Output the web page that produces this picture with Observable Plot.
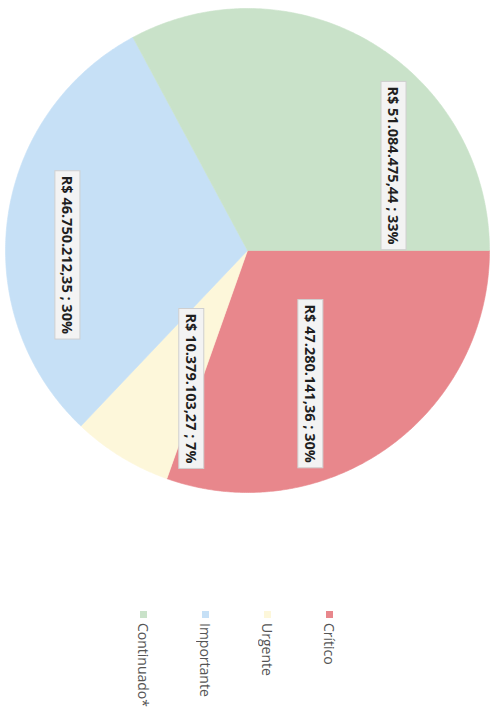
<!DOCTYPE html>
<html>
<head>
<meta charset="utf-8">
<script src="https://cdn.jsdelivr.net/npm/d3@7"></script>
<script src="https://cdn.jsdelivr.net/npm/@observablehq/plot@0.6"></script>
<style>
  html, body { margin: 0; padding: 0; background: #ffffff; overflow: hidden; }
  #stage {
    position: absolute; left: 0; top: 0; width: 714px; height: 499px;
    transform-origin: 0 0; transform: translate(499px, 0) rotate(90deg);
  }
  #pie { position: absolute; left: 0; top: 0; }
  #legend { position: absolute; left: 611px; top: 138px; }
  #legend, #legend * { font-family: "Open Sans", sans-serif !important; font-size: 14px !important; color: #555555 !important; }
  #legend [class$="-swatch"] { height: 62px !important; padding-bottom: 0 !important; display: flex !important; align-items: center !important; margin: 0 !important; }
  #legend [class$="-swatch"] svg { margin-right: 5px !important; }
  #legend > div { margin: 0 !important; }
</style>
</head>
<body>
<div id="stage"><div id="pie"></div><div id="legend"></div></div>
<script>
// ---- data ----
const categories = ["Crítico", "Urgente", "Importante", "Continuado*"];
const amounts = [47280141.36, 10379103.27, 46750212.35, 51084475.44];
const colors = ["#E8878C", "#FDF7DA", "#C6E0F6", "#C9E2C9"];
// label placement (layout): radius as fraction of pie radius, angular shift from slice middle (deg)
const labelRadius = [0.607, 0.617, 0.748, 0.695];
const labelShift = [10.3, -9, -9, 28.8];

// ---- derived ----
const ptBR = d3.formatLocale({decimal: ",", thousands: ".", grouping: [3], currency: ["R$ ", ""]});
const money = ptBR.format("$,.2f");
const total = d3.sum(amounts);
const arcs = d3.pie().sort(null)(amounts);

const slicePts = [];
arcs.forEach((a, i) => {
  const cat = categories[i];
  slicePts.push({cat, x: 0, y: 0});
  const n = Math.max(2, Math.ceil((a.endAngle - a.startAngle) / (Math.PI / 360)));
  for (let k = 0; k <= n; k++) {
    const t = a.startAngle + (a.endAngle - a.startAngle) * k / n;
    slicePts.push({cat, x: Math.sin(t), y: Math.cos(t)});
  }
  slicePts.push({cat, x: 0, y: 0});
});

const labelData = arcs.map((a, i) => {
  const mid = (a.startAngle + a.endAngle) / 2 + labelShift[i] * Math.PI / 180;
  return {
    cat: categories[i],
    x: labelRadius[i] * Math.sin(mid),
    y: labelRadius[i] * Math.cos(mid),
    text: `${money(amounts[i])} ; ${Math.round(100 * amounts[i] / total)}%`
  };
});

const chart = Plot.plot({
  width: 500,
  height: 499,
  marginLeft: 8, marginRight: 8, marginTop: 9, marginBottom: 6,
  x: {domain: [-1, 1], axis: null},
  y: {domain: [-1, 1], axis: null},
  color: {domain: categories, range: colors},
  style: {background: "transparent"},
  marks: [
    Plot.line(slicePts, {x: "x", y: "y", z: "cat", fill: "cat", stroke: "cat", strokeWidth: 0.6, curve: "linear"}),
    Plot.text(labelData, {x: "x", y: "y", text: "text", fontSize: 14.5, fontWeight: "bold",
      fontFamily: "Open Sans", fill: "#1f1f1f"})
  ]
});
document.getElementById("pie").appendChild(chart);

// background boxes behind labels
const svgNS = "http://www.w3.org/2000/svg";
function addBoxes() {
  chart.querySelectorAll("text").forEach(t => {
    const b = t.getBBox();
    if (!b.width) return;
    const r = document.createElementNS(svgNS, "rect");
    r.setAttribute("x", b.x - 5);
    r.setAttribute("y", b.y - 3);
    r.setAttribute("width", b.width + 10);
    r.setAttribute("height", b.height + 6);
    r.setAttribute("fill", "#F3F3F3");
    r.setAttribute("stroke", "#CFCFCF");
    r.setAttribute("stroke-width", "1");
    const tr = t.getAttribute("transform");
    if (tr) r.setAttribute("transform", tr);
    t.parentNode.insertBefore(r, t);
  });
}
addBoxes();

const legend = Plot.legend({
  color: {domain: categories, range: colors},
  legend: "swatches",
  columns: 1,
  swatchSize: 7,
  className: "lg"
});
document.getElementById("legend").appendChild(legend);
</script>
</body>
</html>
